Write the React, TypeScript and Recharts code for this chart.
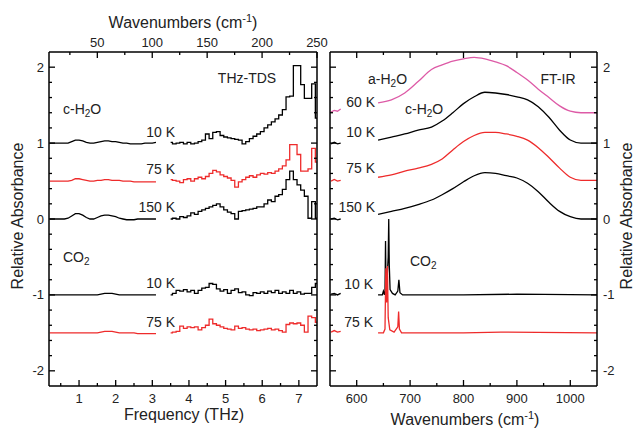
// --- Espectros THz-TDS (esquerda) e FT-IR (direita) de gelo de H2O e CO2 ---

import React from 'react';
import { LineChart, Line, XAxis, YAxis } from 'recharts';

const FONT = '"Liberation Sans", Arial, Helvetica, sans-serif';
const PRETO = '#000000';
const VERMELHO = '#ee2b2b';
const ROSA = '#dd5aa6';

// dominios e ticks
const THZ_DOMAIN = [0.18, 7.495];
const WN_TOP_DOMAIN = [6, 250];
const IR_DOMAIN = [550, 1050];
const Y_DOMAIN = [-2.2, 2.2];
const Y_TICKS = [-2, -1.8, -1.6, -1.4, -1.2, -1, -0.8, -0.6, -0.4, -0.2, 0, 0.2, 0.4, 0.6, 0.8, 1, 1.2, 1.4, 1.6, 1.8, 2];
const THZ_TICKS = [0.5, 1, 1.5, 2, 2.5, 3, 3.5, 4, 4.5, 5, 5.5, 6, 6.5, 7];
const WN_TOP_TICKS = [25, 50, 75, 100, 125, 150, 175, 200, 225, 250];
const IR_TICKS = [600, 650, 700, 750, 800, 850, 900, 950, 1000];

// THz-TDS, faixa baixa (linha continua)
const THZ_LO = [0.2, 0.3, 0.4, 0.5, 0.6, 0.7, 0.8, 0.9, 1.0, 1.1, 1.2, 1.3, 1.4, 1.5, 1.6, 1.7, 1.8, 1.9, 2.0, 2.1, 2.2, 2.3, 2.4, 2.5, 2.6, 2.7, 2.8, 2.9, 3.0, 3.1];
const CH2O_10K_LO = [1.00, 1.00, 1.00, 1.00, 1.00, 1.00, 1.02, 1.04, 1.04, 1.03, 1.01, 1.00, 1.00, 1.01, 1.02, 1.03, 1.03, 1.02, 1.02, 1.01, 1.00, 1.00, 0.99, 0.99, 0.99, 0.99, 1.00, 1.00, 1.00, 1.01];
const CH2O_75K_LO = [0.50, 0.50, 0.50, 0.50, 0.50, 0.50, 0.51, 0.53, 0.53, 0.52, 0.51, 0.50, 0.50, 0.51, 0.51, 0.52, 0.52, 0.51, 0.51, 0.51, 0.50, 0.50, 0.50, 0.49, 0.49, 0.49, 0.49, 0.49, 0.49, 0.49];
const CH2O_150K_LO = [0.00, 0.00, 0.00, 0.00, 0.00, 0.01, 0.04, 0.07, 0.07, 0.05, 0.02, 0.00, 0.00, 0.02, 0.04, 0.05, 0.05, 0.04, 0.03, 0.01, 0.00, -0.01, -0.01, -0.01, 0.00, 0.00, 0.00, 0.00, 0.00, 0.00];
const CO2_10K_LO = [-1.00, -1.00, -1.00, -1.00, -1.00, -1.00, -1.00, -1.00, -1.00, -1.00, -1.00, -1.00, -1.00, -1.00, -0.99, -0.98, -0.98, -0.98, -0.99, -1.00, -1.00, -1.00, -1.00, -1.00, -1.00, -1.00, -1.00, -1.00, -1.00, -1.00];
const CO2_75K_LO = [-1.50, -1.50, -1.50, -1.50, -1.50, -1.50, -1.50, -1.50, -1.50, -1.50, -1.50, -1.50, -1.50, -1.50, -1.49, -1.48, -1.48, -1.48, -1.49, -1.50, -1.50, -1.50, -1.50, -1.50, -1.51, -1.51, -1.51, -1.51, -1.51, -1.51];

// THz-TDS, faixa alta (degraus)
const THZ_HI = [3.5, 3.6, 3.7, 3.8, 3.9, 4.0, 4.1, 4.2, 4.3, 4.4, 4.5, 4.6, 4.7, 4.8, 4.9, 5.0, 5.1, 5.2, 5.3, 5.4, 5.5, 5.6, 5.7, 5.8, 5.9, 6.0, 6.1, 6.2, 6.3, 6.4, 6.5, 6.6, 6.7, 6.8, 6.9, 7.0, 7.1, 7.2, 7.3, 7.4, 7.5];
const CH2O_10K_HI = [1.01, 0.99, 1.00, 1.01, 0.99, 1.01, 0.99, 1.00, 1.02, 1.04, 1.12, 1.06, 1.14, 1.15, 1.10, 1.08, 1.07, 1.06, 1.05, 1.04, 0.99, 1.02, 1.06, 1.09, 1.12, 1.15, 1.20, 1.24, 1.28, 1.32, 1.37, 1.44, 1.61, 1.62, 2.02, 2.02, 1.77, 1.59, 1.59, 1.78, 1.33];
const CH2O_75K_HI = [0.52, 0.51, 0.50, 0.48, 0.52, 0.53, 0.50, 0.53, 0.55, 0.53, 0.56, 0.60, 0.64, 0.62, 0.58, 0.56, 0.54, 0.51, 0.42, 0.49, 0.52, 0.55, 0.57, 0.55, 0.58, 0.60, 0.59, 0.61, 0.60, 0.63, 0.66, 0.70, 0.78, 0.98, 0.98, 0.85, 0.63, 0.63, 0.66, 0.93, 0.75];
const CH2O_150K_HI = [0.00, 0.01, 0.00, 0.03, 0.02, 0.04, 0.08, 0.06, 0.10, 0.12, 0.14, 0.16, 0.18, 0.20, 0.16, 0.12, 0.09, 0.07, 0.00, 0.10, 0.11, 0.12, 0.13, 0.14, 0.16, 0.16, 0.20, 0.25, 0.23, 0.30, 0.32, 0.39, 0.52, 0.63, 0.52, 0.45, 0.38, 0.30, 0.01, 0.23, 0.01];
const CO2_10K_HI = [-1.00, -0.98, -0.94, -0.95, -0.93, -0.96, -0.94, -0.98, -0.94, -0.91, -0.90, -0.85, -0.86, -0.92, -0.95, -0.93, -0.98, -0.94, -0.92, -0.97, -0.96, -1.00, -1.01, -0.97, -0.98, -0.96, -0.98, -0.95, -0.97, -0.94, -0.98, -0.96, -0.98, -0.94, -0.98, -0.96, -0.99, -0.98, -0.98, -0.90, -0.85];
const CO2_75K_HI = [-1.50, -1.49, -1.48, -1.41, -1.44, -1.42, -1.43, -1.42, -1.46, -1.43, -1.40, -1.32, -1.38, -1.40, -1.42, -1.44, -1.45, -1.46, -1.41, -1.44, -1.43, -1.45, -1.46, -1.45, -1.47, -1.46, -1.45, -1.44, -1.46, -1.45, -1.47, -1.49, -1.39, -1.37, -1.38, -1.37, -1.40, -1.49, -1.28, -1.30, -1.36];

// FT-IR, pedacinhos no inicio do painel
const IR_STUB = [552, 558, 564, 570];
const AH2O_STUB = [1.41, 1.43, 1.42, 1.45];
const CH2O_10K_STUB = [0.99, 1.01, 0.99, 1.00];
const CH2O_75K_STUB = [0.50, 0.52, 0.50, 0.51];
const CH2O_150K_STUB = [0.00, 0.01, -0.01, 0.00];
const CO2_10K_STUB = [-0.99, -0.98, -1.00, -0.98];
const CO2_75K_STUB = [-1.49, -1.47, -1.49, -1.48];

// FT-IR, bandas de libracao do gelo
const IR_X = [640, 665, 690, 715, 740, 760, 780, 800, 820, 840, 860, 880, 900, 920, 940, 960, 980, 1000, 1020, 1050];
const AH2O_60K = [1.53, 1.57, 1.66, 1.81, 1.97, 2.03, 2.08, 2.11, 2.13, 2.11, 2.07, 2.02, 1.93, 1.83, 1.71, 1.60, 1.49, 1.42, 1.40, 1.40];
const CH2O_10K_IR = [1.04, 1.08, 1.12, 1.17, 1.21, 1.29, 1.40, 1.52, 1.61, 1.67, 1.66, 1.64, 1.61, 1.57, 1.48, 1.34, 1.17, 1.04, 1.00, 1.00];
const CH2O_75K_IR = [0.55, 0.58, 0.63, 0.67, 0.72, 0.79, 0.91, 1.02, 1.10, 1.14, 1.14, 1.12, 1.09, 1.04, 0.94, 0.81, 0.67, 0.55, 0.51, 0.51];
const CH2O_150K_IR = [0.06, 0.10, 0.14, 0.19, 0.25, 0.32, 0.40, 0.49, 0.57, 0.61, 0.60, 0.57, 0.54, 0.47, 0.36, 0.22, 0.10, 0.03, 0.00, 0.00];

// FT-IR, CO2 (picos estreitos)
const CO2_10K_X = [640, 648, 650, 652, 653, 654, 655, 656, 659, 660, 661, 662.5, 667, 672, 677, 679, 681, 686, 700, 800, 900, 1050];
const CO2_10K_IR = [-1.00, -1.00, -0.95, -1.00, -0.95, -0.29, -0.95, -0.90, -0.50, 0.00, -0.60, -0.93, -0.98, -1.00, -0.95, -0.80, -0.97, -1.00, -1.00, -1.00, -0.99, -1.00];
const CO2_75K_X = [640, 650, 653, 654.5, 656, 657.5, 659, 662, 670, 677, 678.5, 680, 684, 700, 800, 870, 1050];
const CO2_75K_IR = [-1.50, -1.50, -1.45, -0.65, -1.10, -0.62, -1.30, -1.46, -1.49, -1.42, -1.22, -1.45, -1.50, -1.50, -1.50, -1.49, -1.50];

const serie = (xs: number[], ys: number[]) => xs.map((x, i) => ({ x, y: ys[i] }));

const inteiro = (v: number) => Math.abs(v - Math.round(v)) < 1e-6;

function fazTick(lado: 'left' | 'right' | 'top' | 'bottom', ehMaior: (v: number) => boolean, comRotulo: boolean) {
  return function Tick(p: any) {
    const { x, y, payload } = p;
    const v = payload.value as number;
    const maior = ehMaior(v);
    const tam = maior ? 6 : 3;
    const txt = comRotulo && maior ? String(v) : null;
    const st = { fontFamily: FONT, fontSize: 13, fill: '#222' };
    if (lado === 'bottom') {
      return (
        <g>
          <line x1={x} x2={x} y1={y} y2={y - tam} stroke={PRETO} strokeWidth={1.3} />
          {txt && <text x={x} y={y + 12} dy="0.35em" textAnchor="middle" {...st}>{txt}</text>}
        </g>
      );
    }
    if (lado === 'top') {
      return (
        <g>
          <line x1={x} x2={x} y1={y} y2={y + tam} stroke={PRETO} strokeWidth={1.3} />
          {txt && <text x={x} y={y - 10} dy="0.35em" textAnchor="middle" {...st}>{txt}</text>}
        </g>
      );
    }
    if (lado === 'left') {
      return (
        <g>
          <line x1={x} x2={x + tam} y1={y} y2={y} stroke={PRETO} strokeWidth={1.3} />
          {txt && <text x={x - 5} y={y} dy="0.35em" textAnchor="end" {...st}>{txt}</text>}
        </g>
      );
    }
    return (
      <g>
        <line x1={x} x2={x - tam} y1={y} y2={y} stroke={PRETO} strokeWidth={1.3} />
        {txt && <text x={x + 6} y={y} dy="0.35em" textAnchor="start" {...st}>{txt}</text>}
      </g>
    );
  };
}

const eixo = { stroke: PRETO, strokeWidth: 1.5 };

function Rotulo({ x, y, ancora = 'meio', tam = 14, rot = false, children }: any) {
  const tx = ancora === 'fim' ? '-100%' : ancora === 'inicio' ? '0' : '-50%';
  return (
    <div style={{
      position: 'absolute', left: x, top: y, whiteSpace: 'nowrap', fontFamily: FONT, fontSize: tam, color: '#222',
      lineHeight: 1, transform: `translate(${tx}, -50%)${rot ? ' rotate(-90deg)' : ''}`, transformOrigin: rot ? '50% 50%' : undefined,
    }}>{children}</div>
  );
}

function linha(key: string, data: any[], cor: string, tipo: any, eixoX: string, eixoY: string) {
  return (
    <Line key={key} data={data} dataKey="y" xAxisId={eixoX} yAxisId={eixoY} type={tipo} stroke={cor}
      strokeWidth={1.3} dot={false} activeDot={false} isAnimationActive={false} />
  );
}

function PainelTHz() {
  return (
    <LineChart width={340} height={428} margin={{ top: 0, right: 18, bottom: 0, left: 0 }}>
      <XAxis xAxisId="thz" dataKey="x" type="number" orientation="bottom" domain={THZ_DOMAIN} allowDataOverflow
        ticks={THZ_TICKS} interval={0} height={42} tickSize={0} tickMargin={0} axisLine={eixo} tickLine={false}
        tick={fazTick('bottom', inteiro, true)} />
      <XAxis xAxisId="wn" dataKey="x" type="number" orientation="top" domain={WN_TOP_DOMAIN} allowDataOverflow
        ticks={WN_TOP_TICKS} interval={0} height={52} tickSize={0} tickMargin={0} axisLine={eixo} tickLine={false}
        tick={fazTick('top', v => v % 50 === 0, true)} />
      <YAxis yAxisId="l" type="number" orientation="left" domain={Y_DOMAIN} allowDataOverflow ticks={Y_TICKS} interval={0}
        width={49} tickSize={0} tickMargin={0} axisLine={eixo} tickLine={false} tick={fazTick('left', inteiro, true)} />
      <YAxis yAxisId="r" type="number" orientation="right" domain={Y_DOMAIN} allowDataOverflow ticks={Y_TICKS} interval={0}
        width={5} tickSize={0} tickMargin={0} axisLine={eixo} tickLine={false} tick={fazTick('right', inteiro, false)} />
      {linha('a1', serie(THZ_LO, CH2O_10K_LO), PRETO, 'linear', 'thz', 'l')}
      {linha('a2', serie(THZ_LO, CH2O_75K_LO), VERMELHO, 'linear', 'thz', 'l')}
      {linha('a3', serie(THZ_LO, CH2O_150K_LO), PRETO, 'linear', 'thz', 'l')}
      {linha('a4', serie(THZ_LO, CO2_10K_LO), PRETO, 'linear', 'thz', 'l')}
      {linha('a5', serie(THZ_LO, CO2_75K_LO), VERMELHO, 'linear', 'thz', 'l')}
      {linha('b1', serie(THZ_HI, CH2O_10K_HI), PRETO, 'step', 'thz', 'l')}
      {linha('b2', serie(THZ_HI, CH2O_75K_HI), VERMELHO, 'step', 'thz', 'l')}
      {linha('b3', serie(THZ_HI, CH2O_150K_HI), PRETO, 'step', 'thz', 'l')}
      {linha('b4', serie(THZ_HI, CO2_10K_HI), PRETO, 'step', 'thz', 'l')}
      {linha('b5', serie(THZ_HI, CO2_75K_HI), VERMELHO, 'step', 'thz', 'l')}
    </LineChart>
  );
}

function PainelIR() {
  return (
    <LineChart width={316} height={428} margin={{ top: 0, right: 0, bottom: 0, left: 0 }}>
      <XAxis xAxisId="ir" dataKey="x" type="number" orientation="bottom" domain={IR_DOMAIN} allowDataOverflow
        ticks={IR_TICKS} interval={0} height={42} tickSize={0} tickMargin={0} axisLine={eixo} tickLine={false}
        tick={fazTick('bottom', v => v % 100 === 0, true)} />
      <XAxis xAxisId="irTop" dataKey="x" type="number" orientation="top" domain={IR_DOMAIN} allowDataOverflow
        ticks={IR_TICKS} interval={0} height={52} tickSize={0} tickMargin={0} axisLine={eixo} tickLine={false}
        tick={fazTick('top', v => v % 100 === 0, false)} />
      <YAxis yAxisId="l" type="number" orientation="left" domain={Y_DOMAIN} allowDataOverflow ticks={Y_TICKS} interval={0}
        width={10} tickSize={0} tickMargin={0} axisLine={eixo} tickLine={false} tick={fazTick('left', inteiro, false)} />
      <YAxis yAxisId="r" type="number" orientation="right" domain={Y_DOMAIN} allowDataOverflow ticks={Y_TICKS} interval={0}
        width={39} tickSize={0} tickMargin={0} axisLine={eixo} tickLine={false} tick={fazTick('right', inteiro, true)} />
      {linha('s1', serie(IR_STUB, AH2O_STUB), ROSA, 'linear', 'ir', 'r')}
      {linha('s2', serie(IR_STUB, CH2O_10K_STUB), PRETO, 'linear', 'ir', 'r')}
      {linha('s3', serie(IR_STUB, CH2O_75K_STUB), VERMELHO, 'linear', 'ir', 'r')}
      {linha('s4', serie(IR_STUB, CH2O_150K_STUB), PRETO, 'linear', 'ir', 'r')}
      {linha('s5', serie(IR_STUB, CO2_10K_STUB), PRETO, 'linear', 'ir', 'r')}
      {linha('s6', serie(IR_STUB, CO2_75K_STUB), VERMELHO, 'linear', 'ir', 'r')}
      {linha('c1', serie(IR_X, AH2O_60K), ROSA, 'monotone', 'ir', 'r')}
      {linha('c2', serie(IR_X, CH2O_10K_IR), PRETO, 'monotone', 'ir', 'r')}
      {linha('c3', serie(IR_X, CH2O_75K_IR), VERMELHO, 'monotone', 'ir', 'r')}
      {linha('c4', serie(IR_X, CH2O_150K_IR), PRETO, 'monotone', 'ir', 'r')}
      {linha('d1', serie(CO2_10K_X, CO2_10K_IR), PRETO, 'linear', 'ir', 'r')}
      {linha('d2', serie(CO2_75K_X, CO2_75K_IR), VERMELHO, 'linear', 'ir', 'r')}
    </LineChart>
  );
}

const H2O = (pre: string) => <span>{pre}-H<sub style={{ fontSize: 10, verticalAlign: -3 }}>2</sub>O</span>;
const CO2 = <span>CO<sub style={{ fontSize: 10, verticalAlign: -3 }}>2</sub></span>;
const CM1 = <span>Wavenumbers (cm<sup style={{ fontSize: 11, verticalAlign: 6 }}>-1</sup>)</span>;

export default function App() {
  return (
    <div style={{ position: 'absolute', left: 0, top: 0, width: 636, height: 428, background: '#fff', overflow: 'hidden' }}>
      <div style={{ position: 'absolute', left: 0, top: 0 }}><PainelTHz /></div>
      <div style={{ position: 'absolute', left: 320, top: 0 }}><PainelIR /></div>

      <Rotulo x={183} y={22} tam={16}>{CM1}</Rotulo>
      <Rotulo x={184} y={415} tam={16}>Frequency (THz)</Rotulo>
      <Rotulo x={465} y={419} tam={16}>{CM1}</Rotulo>
      <Rotulo x={18} y={216} tam={16} rot>Relative Absorbance</Rotulo>
      <Rotulo x={627} y={216} tam={16} rot>Relative Absorbance</Rotulo>

      <Rotulo x={247} y={78}>THz-TDS</Rotulo>
      <Rotulo x={63} y={110} ancora="inicio">{H2O('c')}</Rotulo>
      <Rotulo x={175} y={132} ancora="fim">10 K</Rotulo>
      <Rotulo x={175} y={169} ancora="fim">75 K</Rotulo>
      <Rotulo x={175} y={207} ancora="fim">150 K</Rotulo>
      <Rotulo x={63} y={258} ancora="inicio">{CO2}</Rotulo>
      <Rotulo x={175} y={283} ancora="fim">10 K</Rotulo>
      <Rotulo x={175} y={322} ancora="fim">75 K</Rotulo>

      <Rotulo x={368} y={80} ancora="inicio">{H2O('a')}</Rotulo>
      <Rotulo x={558} y={79}>FT-IR</Rotulo>
      <Rotulo x={375} y={102} ancora="fim">60 K</Rotulo>
      <Rotulo x={405} y={110} ancora="inicio">{H2O('c')}</Rotulo>
      <Rotulo x={375} y={132} ancora="fim">10 K</Rotulo>
      <Rotulo x={375} y={168} ancora="fim">75 K</Rotulo>
      <Rotulo x={375} y={207} ancora="fim">150 K</Rotulo>
      <Rotulo x={410} y={262} ancora="inicio">{CO2}</Rotulo>
      <Rotulo x={373} y={284} ancora="fim">10 K</Rotulo>
      <Rotulo x={373} y={322} ancora="fim">75 K</Rotulo>
    </div>
  );
}
